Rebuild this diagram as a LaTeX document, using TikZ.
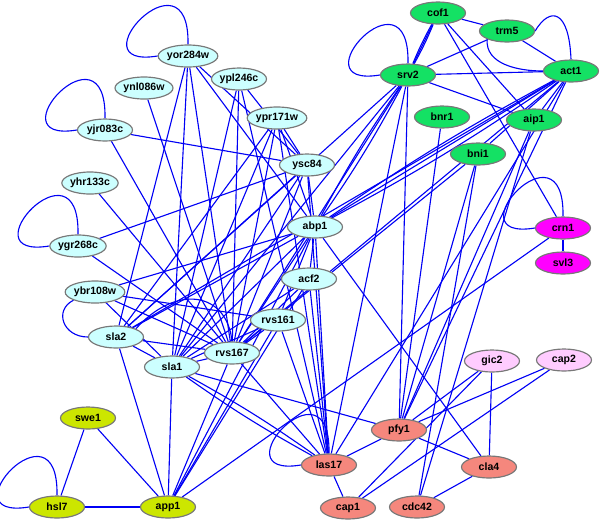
\documentclass[tikz,border=0pt]{standalone}
\usepackage{fontspec}
\setmainfont{Liberation Sans}
\usetikzlibrary{shapes.geometric, backgrounds}
\definecolor{cyanbg}{RGB}{204,255,255}
\definecolor{greenbg}{RGB}{20,225,100}
\definecolor{magbg}{RGB}{255,0,255}
\definecolor{limebg}{RGB}{204,230,0}
\definecolor{pinkbg}{RGB}{255,204,255}
\definecolor{salmonbg}{RGB}{245,135,125}
\definecolor{rimgray}{RGB}{120,120,120}
\definecolor{linkblue}{RGB}{0,0,245}

\begin{document}
\begin{tikzpicture}[x=0.03cm, y=-0.03cm,
    prot/.style={ellipse, draw=rimgray, line width=1pt, inner sep=0pt,
                 minimum width=1.65cm, minimum height=0.66cm,
                 font=\fontsize{9}{10}\selectfont\bfseries},
    link/.style={linkblue, line width=0.95pt}]
  \useasboundingbox (0,0) rectangle (600,521);
  \def\selfloop#1{\draw[link] (#1.north) .. controls +(2,-100) and +(-85,14) .. (#1.west);}

  % proteins, one colour per group
  \foreach \n/\x/\y in {yor284w/188/56, ypl246c/239/79, ynl086w/144/88,
      ypr171w/277/118, yjr083c/105/130, ysc84/307/165, yhr133c/90/183,
      ygr268c/78/246, abp1/315/227, acf2/309/279, rvs161/278/320,
      ybr108w/95/292, sla2/116/337, rvs167/232/353, sla1/172/367}
    \node[prot, fill=cyanbg] (\n) at (\x,\y) {\n};
  \foreach \n/\x/\y in {cof1/438/13, trm5/507/31, srv2/408/75, act1/571/71,
      bnr1/442/117, aip1/534/120, bni1/478/154}
    \node[prot, fill=greenbg] (\n) at (\x,\y) {\n};
  \foreach \n/\x/\y in {crn1/563/228, svl3/563/263}
    \node[prot, fill=magbg] (\n) at (\x,\y) {\n};
  \foreach \n/\x/\y in {swe1/88/418, hsl7/57/507, app1/168/507}
    \node[prot, fill=limebg] (\n) at (\x,\y) {\n};
  \foreach \n/\x/\y in {gic2/492/361, cap2/564/360}
    \node[prot, fill=pinkbg] (\n) at (\x,\y) {\n};
  \foreach \n/\x/\y in {pfy1/399/430, las17/329/465, cla4/489/467,
      cap1/348/508, cdc42/417/507}
    \node[prot, fill=salmonbg] (\n) at (\x,\y) {\n};

  \begin{scope}[on background layer]
    % single interactions
    \foreach \a/\b in {yor284w/sla2, yor284w/sla1, yor284w/rvs167, yor284w/ysc84,
        yor284w/abp1, ynl086w/rvs167, ypl246c/sla1, ypl246c/las17, ypl246c/ysc84,
        ypl246c/rvs167, ypr171w/sla2, ypr171w/sla1, ypr171w/rvs167, ypr171w/ysc84,
        ypr171w/abp1, ypr171w/las17, yjr083c/ysc84, yjr083c/rvs167, yhr133c/rvs167,
        ygr268c/ysc84, ygr268c/rvs167, ybr108w/sla1, ybr108w/rvs167, ybr108w/rvs161,
        ybr108w/abp1, sla2/sla1, sla2/rvs167, sla2/app1, sla2/abp1, sla2/ysc84,
        sla2/srv2, sla2/act1, sla1/rvs167, sla1/app1, sla1/pfy1, sla1/abp1,
        sla1/ysc84, sla1/srv2, sla1/rvs161, sla1/acf2, rvs167/rvs161, rvs167/app1,
        rvs167/las17, rvs167/abp1, rvs167/ysc84, rvs167/acf2, rvs167/srv2,
        rvs167/act1, rvs167/bni1, rvs161/las17, rvs161/app1, rvs161/abp1,
        acf2/las17, acf2/app1, acf2/abp1, abp1/las17, abp1/cla4, abp1/app1,
        ysc84/las17, ysc84/abp1, cof1/trm5, cof1/aip1, cof1/crn1, trm5/srv2,
        trm5/act1, srv2/act1, srv2/aip1, srv2/pfy1, srv2/las17, act1/aip1,
        act1/bni1, act1/pfy1, act1/las17, aip1/pfy1, aip1/cdc42, bnr1/pfy1,
        bni1/pfy1, bni1/cdc42, crn1/svl3, crn1/app1, pfy1/las17, pfy1/cla4,
        gic2/pfy1, gic2/cap1, gic2/cla4, cap2/pfy1, cap2/cap1, cla4/cdc42,
        las17/cap1, swe1/hsl7, swe1/app1, hsl7/app1}
      \draw[link] (\a) -- (\b);
    % repeated interactions
    \foreach \a/\b in {cof1/srv2, abp1/srv2, abp1/act1, sla1/las17}
    {
      \draw[link] (\a) to[bend left=3] (\b);
      \draw[link] (\a) to[bend right=3] (\b);
    }
    \draw[link] (cof1) -- (srv2);
    \draw[link] (abp1) -- (act1);
    \draw[link] (act1.north) .. controls +(-2,-50) and +(15,-25) .. (trm5.east);
    \draw[link] (trm5.south west) .. controls +(-2,25) and +(-25,0) .. (act1.west);
    \draw[link] (ybr108w.south west) .. controls +(-20,10) and +(-25,0) .. (sla2.west);
    \draw[link] (sla2.north east) .. controls +(40,-45) and +(-5,-50) .. (rvs167.north);
    % self interactions
    \foreach \n in {yor284w, yjr083c, ygr268c, srv2, hsl7, crn1, las17}
      {\selfloop{\n}}
  \end{scope}
\end{tikzpicture}
\end{document}
